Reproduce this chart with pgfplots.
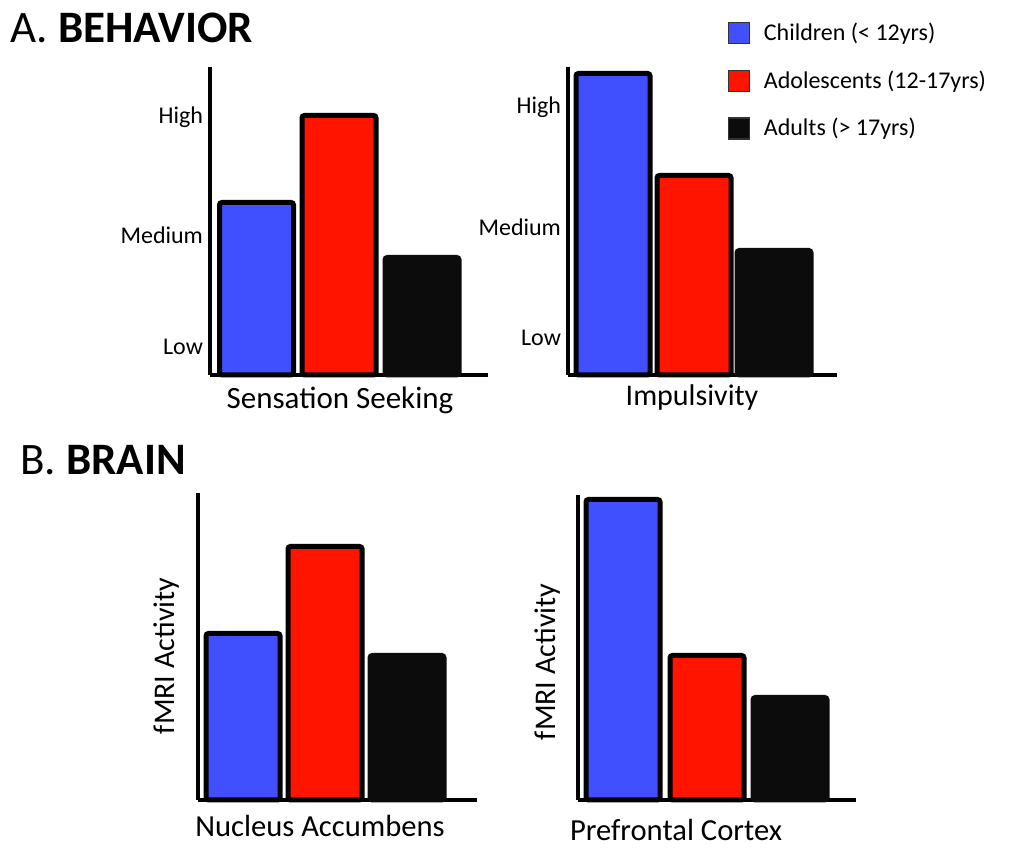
\documentclass[border=0pt]{standalone}
\usepackage{fontspec}
\setmainfont{Carlito}
\usepackage{pgfplots}
\pgfplotsset{compat=1.18}

\definecolor{kidblue}{RGB}{64,80,255}
\definecolor{teenred}{RGB}{255,20,0}
\definecolor{adultblack}{RGB}{12,12,12}

% one unit = one pixel of the reference (0.5pt)
\pgfplotsset{
  panel/.style={
    x=0.5pt, y=0.5pt, xmin=0, ymin=0,
    axis lines=left,
    axis line style={-, line width=2pt, black},
    xtick=\empty, major tick length=0pt,
    clip=false,
    tick label style={font=\fontsize{12}{14}\selectfont},
  },
  agebar/.style={ybar, bar shift=0pt, bar width=37pt, line width=2.5pt,
    draw=black, rounded corners=1.2pt, fill=#1},
  sq/.style={legend image code/.code={\draw[##1,/tikz/.cd,line width=0.6pt,
    draw=black!80,sharp corners] (0pt,-5.25pt) rectangle (10.5pt,5.25pt);
    \path[draw=none, fill=none] (10.5pt,0pt) -- (15.5pt,0pt);}},
}

\begin{document}
\begin{tikzpicture}
\useasboundingbox (0,0) rectangle (505.5pt,427pt);

\node[anchor=base west, inner sep=0pt, font=\fontsize{22.5}{27}\selectfont] at (5pt,405.5pt) {A. \textbf{BEHAVIOR}};
\node[anchor=base west, inner sep=0pt, font=\fontsize{22.5}{27}\selectfont] at (10pt,189.5pt) {B. \textbf{BRAIN}};

% Sensation seeking
\begin{axis}[panel, at={(105pt,239.5pt)}, anchor=south west,
  xmax=278, ymax=308,
  ytick={28,140,258}, yticklabels={Low,Medium,High}]
\addplot[agebar=kidblue] coordinates {(46.5,172.5)};
\addplot[agebar=teenred] coordinates {(129,259.5)};
\addplot[agebar=adultblack, draw=adultblack] coordinates {(212,117.5)};
\node[font=\fontsize{15.5}{18}\selectfont] at (axis cs:130,-25) {Sensation Seeking};
\end{axis}

% Impulsivity
\begin{axis}[panel, at={(284pt,239.5pt)}, anchor=south west,
  xmax=269, ymax=308,
  ytick={37,148,268}, yticklabels={Low,Medium,High},
  legend style={at={(0.572,1.17)}, anchor=north west, draw=none, fill=none,
    font=\fontsize{12}{14}\selectfont, row sep=9.5pt, legend cell align=left}]
\addplot[agebar=kidblue, sq] coordinates {(45,301.5)};
\addplot[agebar=teenred, sq] coordinates {(126,199.5)};
\addplot[agebar=adultblack, draw=adultblack, sq] coordinates {(206,124.5)};
\legend{Children (< 12yrs), Adolescents (12-17yrs), Adults (> 17yrs)}
\node[font=\fontsize{15}{18}\selectfont] at (axis cs:124,-23) {Impulsivity};
\end{axis}

% Nucleus accumbens
\begin{axis}[panel, at={(99pt,27pt)}, anchor=south west,
  xmax=279, ymax=307, ytick=\empty]
\addplot[agebar=kidblue] coordinates {(45,166.5)};
\addplot[agebar=teenred] coordinates {(127,253.5)};
\addplot[agebar=adultblack, draw=adultblack] coordinates {(209,144.5)};
\node[font=\fontsize{15.3}{18}\selectfont] at (axis cs:122,-26) {Nucleus Accumbens};
\node[font=\fontsize{15}{18}\selectfont, rotate=90] at (axis cs:-31,144) {fMRI Activity};
\end{axis}

% Prefrontal cortex
\begin{axis}[panel, at={(289pt,27pt)}, anchor=south west,
  xmax=278, ymax=305, ytick=\empty]
\addplot[agebar=kidblue] coordinates {(45,300.5)};
\addplot[agebar=teenred] coordinates {(129,144.5)};
\addplot[agebar=adultblack, draw=adultblack] coordinates {(212,102.5)};
\node[font=\fontsize{15.3}{18}\selectfont] at (axis cs:98,-30) {Prefrontal Cortex};
\node[font=\fontsize{15}{18}\selectfont, rotate=90] at (axis cs:-30,138) {fMRI Activity};
\end{axis}
\end{tikzpicture}
\end{document}
